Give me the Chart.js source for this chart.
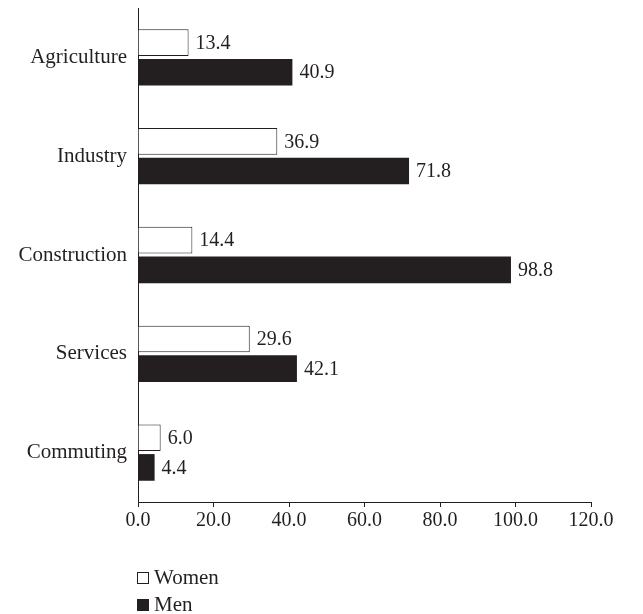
<!DOCTYPE html>
<html>
<head>
<meta charset="utf-8">
<script src="https://cdn.jsdelivr.net/npm/chart.js@4/dist/chart.umd.min.js"></script>
<style>
  html, body { margin: 0; padding: 0; background: #fff; }
  #wrap { position: relative; width: 643px; height: 614px; }
  #legend { position: absolute; left: 137px; top: 564px; font-family: "Liberation Serif", serif; font-size: 21px; color: #231f20; }
  #legend div { height: 27px; line-height: 27px; display: flex; align-items: center; }
  #legend span.box { display: inline-block; width: 10px; height: 10px; border: 1px solid #231f20; margin-right: 5px; }
</style>
</head>
<body>
<div id="wrap">
  <canvas id="chart" width="643" height="614"></canvas>
  <div id="legend"></div>
</div>
<script>
var categories = ['Agriculture', 'Industry', 'Construction', 'Services', 'Commuting'];
var women = [13.4, 36.9, 14.4, 29.6, 6.0];
var men = [40.9, 71.8, 98.8, 42.1, 4.4];
var xTicks = [0, 20, 40, 60, 80, 100, 120];

var ink = '#231f20';
var serif = '"Liberation Serif", serif';

// value written to the right of each bar
var valueLabels = {
	id: 'valueLabels',
	afterDatasetsDraw: function(chart) {
		var ctx = chart.ctx;
		ctx.save();
		ctx.fillStyle = ink;
		ctx.font = '20px ' + serif;
		ctx.textAlign = 'left';
		ctx.textBaseline = 'middle';
		chart.data.datasets.forEach(function(ds, i) {
			chart.getDatasetMeta(i).data.forEach(function(bar, j) {
				ctx.fillText(ds.data[j].toFixed(1), bar.x + 7, bar.y + 1);
			});
		});
		ctx.restore();
	}
};

var chart = new Chart(document.getElementById('chart').getContext('2d'), {
	type: 'bar',
	data: {
		labels: categories,
		datasets: [{
			label: 'Women',
			data: women,
			backgroundColor: '#ffffff',
			borderColor: ink,
			borderWidth: 1
		}, {
			label: 'Men',
			data: men,
			backgroundColor: ink,
			borderColor: ink,
			borderWidth: 0
		}]
	},
	options: {
		indexAxis: 'y',
		responsive: false,
		animation: false,
		categoryPercentage: 0.6,
		barPercentage: 0.9,
		layout: { padding: { top: 8, right: 52, bottom: 82, left: 0 } },
		plugins: {
			legend: { display: false },
			tooltip: { enabled: false }
		},
		scales: {
			x: {
				min: 0,
				max: 120,
				afterBuildTicks: function(axis) {
					axis.ticks = xTicks.map(function(v) { return { value: v }; });
				},
				afterFit: function(axis) { axis.height = 30; },
				grid: { drawOnChartArea: false, drawTicks: true, tickLength: 5, color: ink },
				border: { color: ink, width: 1 },
				ticks: {
					color: ink,
					padding: 2,
					maxRotation: 0,
					font: { family: serif, size: 20 },
					callback: function(v) { return Number(v).toFixed(1); }
				}
			},
			y: {
				afterFit: function(axis) {
					axis.width = 138;
					axis.paddingTop = 0;
					axis.paddingBottom = 0;
				},
				grid: { display: false },
				border: { color: ink, width: 1 },
				ticks: {
					color: ink,
					padding: 3,
					font: { family: serif, size: 21 }
				}
			}
		}
	},
	plugins: [valueLabels]
});

// legend stacked under the axis
var legend = document.getElementById('legend');
chart.data.datasets.forEach(function(ds) {
	var row = document.createElement('div');
	var box = document.createElement('span');
	box.className = 'box';
	box.style.background = ds.backgroundColor;
	row.appendChild(box);
	row.appendChild(document.createTextNode(ds.label));
	legend.appendChild(row);
});
</script>
</body>
</html>
